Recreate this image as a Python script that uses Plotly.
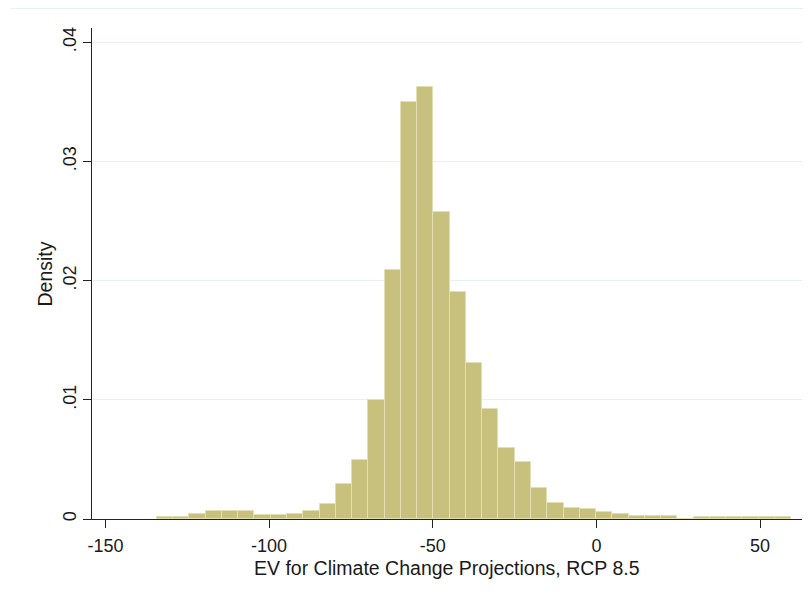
import plotly.graph_objects as go

# Histogram data (density per bin), bins of equal width starting at bin_start
bin_start = -134.3
bin_width = 4.97
density = [
    0.00014, 0.00014, 0.00042, 0.00069, 0.00069, 0.00069, 0.00031, 0.00031,
    0.00045, 0.00069, 0.00126, 0.00293, 0.00494, 0.00996, 0.0209, 0.0350,
    0.03623, 0.02572, 0.01902, 0.01308, 0.00926, 0.00592, 0.0048, 0.00257,
    0.00137, 0.0009, 0.00081, 0.00056, 0.00045, 0.00023, 0.00023, 0.00023,
    0.0, 0.00014, 0.00014, 0.00014, 0.00014, 0.00014, 0.00014,
]
x_ticks = [-150, -100, -50, 0, 50]
x_tick_labels = ["-150", "-100", "-50", "0", "50"]
y_ticks = [0, 0.01, 0.02, 0.03, 0.04]
y_tick_labels = ["0", ".01", ".02", ".03", ".04"]
x_title = "EV for Climate Change Projections, RCP 8.5"
y_title = "Density"

centers = [bin_start + bin_width * (i + 0.5) for i in range(len(density))]

fig = go.Figure()
fig.add_trace(go.Bar(
    x=centers, y=density, width=[bin_width] * len(density),
    marker=dict(color="#c8c07d", line=dict(color="#e3dfb4", width=1)),
    hoverinfo="x+y",
))

tick_font = dict(family="Liberation Sans, Arial, sans-serif", size=18, color="#1a1a1a")
title_font = dict(family="Liberation Sans, Arial, sans-serif", size=19.5, color="#1a1a1a")

fig.update_layout(
    width=795, height=578,
    margin=dict(l=84, r=1, t=20, b=67),
    paper_bgcolor="white", plot_bgcolor="white",
    showlegend=False, bargap=0,
    xaxis=dict(
        range=[-154.1, 62.8], tickvals=x_ticks, ticktext=x_tick_labels,
        ticks="outside", ticklen=8, automargin=False,
        tickwidth=1.3, tickcolor="#222", showline=True, linecolor="#222",
        linewidth=1.3, showgrid=False, zeroline=False,
        tickfont=tick_font, ticklabelstandoff=2,
    ),
    yaxis=dict(
        range=[0, 0.0412], tickvals=y_ticks, ticktext=y_tick_labels,
        tickangle=-90, ticks="outside", ticklen=8, tickwidth=1.3,
        automargin=False,
        tickcolor="#222", showline=True, linecolor="#222", linewidth=1.3,
        showgrid=True, gridcolor="#e8f0f1", gridwidth=1, zeroline=False,
        tickfont=tick_font,
    ),
    annotations=[
        dict(text=x_title, xref="paper", yref="paper", x=0.5, y=-0.1,
             xanchor="center", yanchor="middle", showarrow=False, font=title_font),
        dict(text=y_title, xref="paper", yref="paper", x=-0.0662, y=0.5,
             xanchor="center", yanchor="middle", showarrow=False,
             textangle=-90, font=title_font),
    ],
    shapes=[dict(type="line", xref="paper", yref="paper",
                 x0=-0.1155, x1=1.01, y0=1.0397, y1=1.0397,
                 line=dict(color="#e8f0f1", width=1))],
)

fig.write_html("out.html")
